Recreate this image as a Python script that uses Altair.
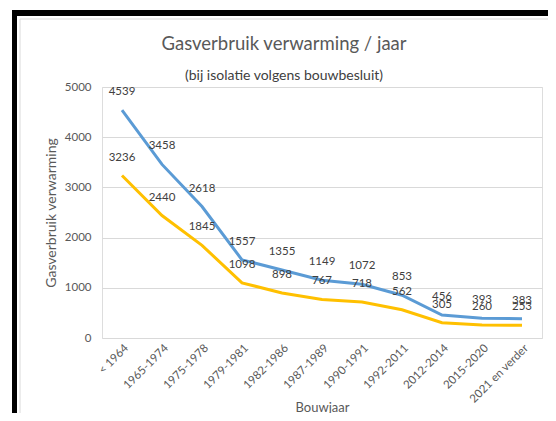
import altair as alt
import pandas as pd

categories = ["< 1964", "1965-1974", "1975-1978", "1979-1981", "1982-1986",
              "1987-1989", "1990-1991", "1992-2011", "2012-2014", "2015-2020",
              "2021 en verder"]
series_blue = [4539, 3458, 2618, 1557, 1355, 1149, 1072, 853, 456, 393, 383]
series_yellow = [3236, 2440, 1845, 1098, 898, 767, 718, 562, 305, 260, 253]
series_names = ["Reeks 1", "Reeks 2"]
series_colors = ["#5B9BD5", "#FFC000"]
y_ticks = [0, 500, 1000, 1500, 2000, 2500, 3000, 3500, 4000, 4500, 5000]

rows = []
for name, vals in zip(series_names, [series_blue, series_yellow]):
    for c, v in zip(categories, vals):
        rows.append({"Bouwjaar": c, "Serie": name, "Waarde": v})
df = pd.DataFrame(rows)

FONT = "Lato"
GRAY = "#595959"

x_enc = alt.X("Bouwjaar:N", sort=categories,
              scale=alt.Scale(type="point", padding=0.5),
              axis=alt.Axis(title="Bouwjaar", labelAngle=-45, labelAlign="right",
                            labelBaseline="top", labelPadding=4, ticks=False, tickSize=0,
                            domain=False, grid=False, labelFont=FONT, labelFontSize=11.5,
                            labelColor=GRAY, titleFont=FONT, titleFontSize=13,
                            titleColor=GRAY, titleFontWeight="normal", titleY=69,
                            titleBaseline="middle"))
y_enc = alt.Y("Waarde:Q", scale=alt.Scale(domain=[0, 5000], nice=False),
              axis=alt.Axis(title="Gasverbruik verwarming", values=y_ticks, format="d",
                            ticks=False, tickSize=0, domain=False, grid=True,
                            gridColor="#d9d9d9", labelPadding=11, labelFont=FONT,
                            labelFontSize=11.5, labelColor=GRAY, titleFont=FONT,
                            titleFontSize=14, titleColor=GRAY, titleFontWeight="normal",
                            titlePadding=6))
color_enc = alt.Color("Serie:N", scale=alt.Scale(domain=series_names, range=series_colors),
                      legend=None)

base = alt.Chart(df)
lines = base.mark_line(strokeWidth=3).encode(x=x_enc, y=y_enc, color=color_enc,
                                              order=alt.Order("Serie:N", sort="descending"))
labels = base.mark_text(dy=-18, font=FONT, fontSize=11.5, color="#404040").encode(
    x=alt.X("Bouwjaar:N", sort=categories), y="Waarde:Q", text="Waarde:Q")

frame_df = pd.DataFrame({"k": [0]})
frame = alt.Chart(frame_df)
left_bar = frame.mark_rule(color="black", strokeWidth=5).encode(
    x=alt.value(-87.5), y=alt.value(-77), y2=alt.value(330))
top_bar = frame.mark_rule(color="black", strokeWidth=6).encode(
    x=alt.value(-90), x2=alt.value(460), y=alt.value(-74))
left_inner = frame.mark_rule(color="#d9d9d9", strokeWidth=1).encode(
    x=alt.value(-82), y=alt.value(-68), y2=alt.value(330))
top_inner = frame.mark_rule(color="#d9d9d9", strokeWidth=1).encode(
    x=alt.value(-82), x2=alt.value(460), y=alt.value(-68))

chart = alt.layer(lines, labels, left_bar, top_bar, left_inner, top_inner).properties(
    width=440, height=251,
    padding={"left": 94, "top": 79, "right": 6, "bottom": 75},
    autosize=alt.AutoSizeParams(type="none"),
    title=alt.TitleParams(text="Gasverbruik verwarming / jaar",
                          subtitle="(bij isolatie volgens bouwbesluit)",
                          font=FONT, fontSize=18.5, fontWeight="normal", color=GRAY,
                          subtitleFont=FONT, subtitleFontSize=14, subtitleColor="#404040",
                          anchor="middle", frame="group", dx=-38, offset=-75,
                          subtitlePadding=15),
).configure_view(stroke=None).configure(background="white")

chart.save("out.html", embed_options={"renderer": "svg", "actions": False})
